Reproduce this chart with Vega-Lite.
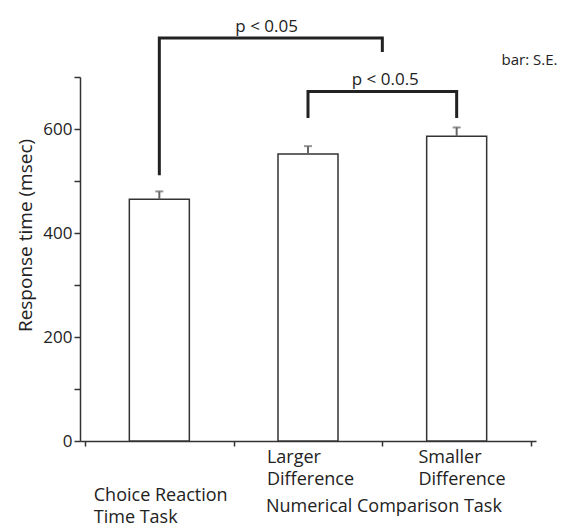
{
  "$schema": "https://vega.github.io/schema/vega-lite/v6.json",
  "width": 456,
  "height": 364,
  "autosize": {"type": "none"},
  "padding": {"left": 80, "top": 77, "right": 29, "bottom": 82},
  "config": {"view": {"stroke": null}, "font": "Open Sans", "text": {"font": "Open Sans"}},
  "datasets": {
    "bars": [
      {"task": "Choice Reaction Time Task", "pos": 0.5, "mean": 465, "upper": 480},
      {"task": "Larger Difference", "pos": 1.5, "mean": 552, "upper": 567},
      {"task": "Smaller Difference", "pos": 2.5, "mean": 586, "upper": 603}
    ],
    "brackets": [
      {"g": 1, "o": 1, "pos": 0.5, "v": 511},
      {"g": 1, "o": 2, "pos": 0.5, "v": 775},
      {"g": 1, "o": 3, "pos": 2.0, "v": 775},
      {"g": 1, "o": 4, "pos": 2.0, "v": 748},
      {"g": 2, "o": 1, "pos": 1.5, "v": 621},
      {"g": 2, "o": 2, "pos": 1.5, "v": 672},
      {"g": 2, "o": 3, "pos": 2.5, "v": 672},
      {"g": 2, "o": 4, "pos": 2.5, "v": 621}
    ],
    "plabels": [
      {"label": "p < 0.05", "pos": 1.222, "v": 787},
      {"label": "p < 0.0.5", "pos": 2.02, "v": 685}
    ],
    "xlabels": [
      {"label": "Larger\nDifference", "pos": 1.224, "v": -42.3},
      {"label": "Smaller\nDifference", "pos": 2.243, "v": -42.3},
      {"label": "Choice Reaction\nTime Task", "pos": 0.059, "v": -114.8},
      {"label": "Numerical Comparison Task", "pos": 1.217, "v": -136}
    ],
    "note": [
      {"label": "bar: S.E.", "pos": 3.178, "v": 723}
    ]
  },
  "layer": [
    {
      "data": {"name": "bars"},
      "mark": {"type": "bar", "fill": "white", "stroke": "#333333", "strokeWidth": 1.5, "size": 60},
      "encoding": {
        "x": {
          "field": "pos", "type": "quantitative",
          "scale": {"domain": [0, 3], "nice": false, "zero": false},
          "axis": {
            "values": [0, 1, 2, 3], "labels": false, "title": null, "grid": false,
            "domainColor": "#333333", "domainWidth": 1.5,
            "tickColor": "#333333", "tickWidth": 1.5, "tickSize": 5
          }
        },
        "y": {
          "field": "mean", "type": "quantitative",
          "scale": {"domain": [0, 700], "nice": false},
          "axis": {
            "values": [0, 100, 200, 300, 400, 500, 600, 700],
            "labelExpr": "datum.value % 200 == 0 ? datum.label : ''",
            "grid": false,
            "domainColor": "#333333", "domainWidth": 1.5,
            "tickColor": "#333333", "tickWidth": 1.5, "tickSize": 6,
            "labelFont": "Open Sans", "labelFontSize": 17, "labelColor": "#222222", "labelPadding": 2,
            "title": "Response time (msec)", "titleFont": "Open Sans", "titleFontSize": 19,
            "titleFontWeight": "normal", "titleColor": "#222222", "titlePadding": 7,
            "titleY": 158
          }
        }
      }
    },
    {
      "data": {"name": "bars"},
      "mark": {"type": "rule", "color": "#666666", "strokeWidth": 2},
      "encoding": {
        "x": {"field": "pos", "type": "quantitative"},
        "y": {"field": "mean", "type": "quantitative"},
        "y2": {"field": "upper"}
      }
    },
    {
      "data": {"name": "bars"},
      "mark": {"type": "tick", "color": "#666666", "orient": "horizontal", "size": 8, "thickness": 2},
      "encoding": {
        "x": {"field": "pos", "type": "quantitative"},
        "y": {"field": "upper", "type": "quantitative"}
      }
    },
    {
      "data": {"name": "brackets"},
      "mark": {"type": "line", "color": "#222222", "strokeWidth": 3, "strokeCap": "butt", "strokeJoin": "miter"},
      "encoding": {
        "x": {"field": "pos", "type": "quantitative"},
        "y": {"field": "v", "type": "quantitative"},
        "detail": {"field": "g"},
        "order": {"field": "o"}
      }
    },
    {
      "data": {"name": "plabels"},
      "mark": {"type": "text", "font": "Open Sans", "fontSize": 17, "color": "#222222", "align": "center", "baseline": "alphabetic"},
      "encoding": {
        "x": {"field": "pos", "type": "quantitative"},
        "y": {"field": "v", "type": "quantitative"},
        "text": {"field": "label"}
      }
    },
    {
      "data": {"name": "xlabels"},
      "mark": {"type": "text", "font": "Open Sans", "fontSize": 18, "color": "#222222", "align": "left", "baseline": "alphabetic", "lineBreak": "\n", "lineHeight": 22},
      "encoding": {
        "x": {"field": "pos", "type": "quantitative"},
        "y": {"field": "v", "type": "quantitative"},
        "text": {"field": "label"}
      }
    },
    {
      "data": {"name": "note"},
      "mark": {"type": "text", "font": "Open Sans", "fontSize": 15, "color": "#222222", "align": "right", "baseline": "alphabetic"},
      "encoding": {
        "x": {"field": "pos", "type": "quantitative"},
        "y": {"field": "v", "type": "quantitative"},
        "text": {"field": "label"}
      }
    }
  ]
}
